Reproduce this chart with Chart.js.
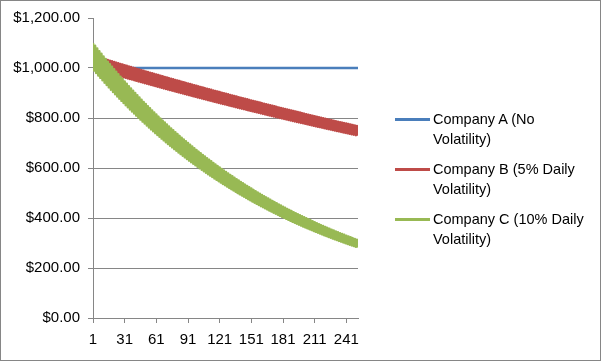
<!DOCTYPE html>
<html><head><meta charset="utf-8">
<script src="https://cdn.jsdelivr.net/npm/chart.js@4.4.1/dist/chart.umd.min.js"></script>
<style>
html,body{margin:0;padding:0;background:#fff;}
#wrap{position:relative;width:601px;height:361px;overflow:hidden;background:#fff;}
#frame{position:absolute;left:0;top:0;width:601px;height:361px;box-sizing:border-box;border:1px solid #868686;pointer-events:none;}
#c{position:absolute;left:0;top:0;}
.lg{position:absolute;left:395px;font-family:"Liberation Sans",Arial,sans-serif;font-size:14.5px;line-height:20px;color:#000;}
.lg .sw{position:absolute;left:0;width:35px;height:3px;top:9px;}
.lg .tx{position:absolute;left:38px;top:0;width:160px;}
</style></head><body>
<div id="wrap"><canvas id="c" width="601" height="361"></canvas><div id="legend"></div><div id="frame"></div></div>
<script>
const days = [
1,2,3,4,5,6,7,8,9,10,11,12,13,14,15,16,17,18,19,20,
21,22,23,24,25,26,27,28,29,30,31,32,33,34,35,36,37,38,39,40,
41,42,43,44,45,46,47,48,49,50,51,52,53,54,55,56,57,58,59,60,
61,62,63,64,65,66,67,68,69,70,71,72,73,74,75,76,77,78,79,80,
81,82,83,84,85,86,87,88,89,90,91,92,93,94,95,96,97,98,99,100,
101,102,103,104,105,106,107,108,109,110,111,112,113,114,115,116,117,118,119,120,
121,122,123,124,125,126,127,128,129,130,131,132,133,134,135,136,137,138,139,140,
141,142,143,144,145,146,147,148,149,150,151,152,153,154,155,156,157,158,159,160,
161,162,163,164,165,166,167,168,169,170,171,172,173,174,175,176,177,178,179,180,
181,182,183,184,185,186,187,188,189,190,191,192,193,194,195,196,197,198,199,200,
201,202,203,204,205,206,207,208,209,210,211,212,213,214,215,216,217,218,219,220,
221,222,223,224,225,226,227,228,229,230,231,232,233,234,235,236,237,238,239,240,
241,242,243,244,245,246,247,248,249,250,251,252
];
const companyA = [
1000,1000,1000,1000,1000,1000,1000,1000,1000,1000,1000,1000,1000,1000,1000,1000,1000,1000,1000,1000,1000,
1000,1000,1000,1000,1000,1000,1000,1000,1000,1000,1000,1000,1000,1000,1000,1000,1000,1000,1000,1000,1000,
1000,1000,1000,1000,1000,1000,1000,1000,1000,1000,1000,1000,1000,1000,1000,1000,1000,1000,1000,1000,1000,
1000,1000,1000,1000,1000,1000,1000,1000,1000,1000,1000,1000,1000,1000,1000,1000,1000,1000,1000,1000,1000,
1000,1000,1000,1000,1000,1000,1000,1000,1000,1000,1000,1000,1000,1000,1000,1000,1000,1000,1000,1000,1000,
1000,1000,1000,1000,1000,1000,1000,1000,1000,1000,1000,1000,1000,1000,1000,1000,1000,1000,1000,1000,1000,
1000,1000,1000,1000,1000,1000,1000,1000,1000,1000,1000,1000,1000,1000,1000,1000,1000,1000,1000,1000,1000,
1000,1000,1000,1000,1000,1000,1000,1000,1000,1000,1000,1000,1000,1000,1000,1000,1000,1000,1000,1000,1000,
1000,1000,1000,1000,1000,1000,1000,1000,1000,1000,1000,1000,1000,1000,1000,1000,1000,1000,1000,1000,1000,
1000,1000,1000,1000,1000,1000,1000,1000,1000,1000,1000,1000,1000,1000,1000,1000,1000,1000,1000,1000,1000,
1000,1000,1000,1000,1000,1000,1000,1000,1000,1000,1000,1000,1000,1000,1000,1000,1000,1000,1000,1000,1000,
1000,1000,1000,1000,1000,1000,1000,1000,1000,1000,1000,1000,1000,1000,1000,1000,1000,1000,1000,1000,1000
];
const companyB = [
1050.0,997.5,1047.4,995.0,1044.8,992.5,1042.1,990.0,1039.5,987.6,
1036.9,985.1,1034.3,982.6,1031.8,980.2,1029.2,977.7,1026.6,975.3,
1024.0,972.8,1021.5,970.4,1018.9,968.0,1016.4,965.6,1013.8,963.1,
1011.3,960.7,1008.8,958.3,1006.3,955.9,1003.7,953.6,1001.2,951.2,
998.7,948.8,996.2,946.4,993.7,944.1,991.3,941.7,988.8,939.3,
986.3,937.0,983.8,934.6,981.4,932.3,978.9,930.0,976.5,927.7,
974.0,925.3,971.6,923.0,969.2,920.7,966.8,918.4,964.3,916.1,
961.9,913.8,959.5,911.5,957.1,909.3,954.7,907.0,952.3,904.7,
950.0,902.5,947.6,900.2,945.2,898.0,942.9,895.7,940.5,893.5,
938.1,891.2,935.8,889.0,933.5,886.8,931.1,884.6,928.8,882.4,
926.5,880.2,924.2,878.0,921.8,875.8,919.5,873.6,917.2,871.4,
915.0,869.2,912.7,867.0,910.4,864.9,908.1,862.7,905.8,860.5,
903.6,858.4,901.3,856.2,899.1,854.1,896.8,852.0,894.6,849.8,
892.3,847.7,890.1,845.6,887.9,843.5,885.7,841.4,883.4,839.3,
881.2,837.2,879.0,835.1,876.8,833.0,874.6,830.9,872.5,828.8,
870.3,826.8,868.1,824.7,865.9,822.6,863.8,820.6,861.6,818.5,
859.5,816.5,857.3,814.4,855.2,812.4,853.0,810.4,850.9,808.3,
848.8,806.3,846.6,804.3,844.5,802.3,842.4,800.3,840.3,798.3,
838.2,796.3,836.1,794.3,834.0,792.3,831.9,790.3,829.9,788.4,
827.8,786.4,825.7,784.4,823.6,782.5,821.6,780.5,819.5,778.6,
817.5,776.6,815.4,774.7,813.4,772.7,811.4,770.8,809.3,768.9,
807.3,767.0,805.3,765.0,803.3,763.1,801.3,761.2,799.3,759.3,
797.3,757.4,795.3,755.5,793.3,753.6,791.3,751.7,789.3,749.9,
787.4,748.0,785.4,746.1,783.4,744.3,781.5,742.4,779.5,740.5,
777.6,738.7,775.6,736.8,773.7,735.0,771.7,733.2,769.8,731.3,
767.9,729.5
];
const companyC = [
1100.0,990.0,1089.0,980.1,1078.1,970.3,1067.3,960.6,1056.7,951.0,
1046.1,941.5,1035.6,932.1,1025.3,922.7,1015.0,913.5,1004.9,904.4,
994.8,895.3,984.9,886.4,975.0,877.5,965.3,868.7,955.6,860.1,
946.1,851.5,936.6,842.9,927.2,834.5,918.0,826.2,908.8,817.9,
899.7,809.7,890.7,801.6,881.8,793.6,873.0,785.7,864.2,777.8,
855.6,770.0,847.0,762.3,838.6,754.7,830.2,747.2,821.9,739.7,
813.7,732.3,805.5,725.0,797.5,717.7,789.5,710.6,781.6,703.4,
773.8,696.4,766.1,689.4,758.4,682.6,750.8,675.7,743.3,669.0,
735.9,662.3,728.5,655.7,721.2,649.1,714.0,642.6,706.9,636.2,
699.8,629.8,692.8,623.5,685.9,617.3,679.0,611.1,672.2,605.0,
665.5,599.0,658.9,593.0,652.3,587.0,645.7,581.2,639.3,575.4,
632.9,569.6,626.6,563.9,620.3,558.3,614.1,552.7,608.0,547.2,
601.9,541.7,595.9,536.3,589.9,530.9,584.0,525.6,578.2,520.3,
572.4,515.1,566.7,510.0,561.0,504.9,555.4,499.8,549.8,494.8,
544.3,489.9,538.9,485.0,533.5,480.1,528.2,475.3,522.9,470.6,
517.6,465.9,512.5,461.2,507.3,456.6,502.3,452.0,497.2,447.5,
492.3,443.0,487.4,438.6,482.5,434.2,477.7,429.9,472.9,425.6,
468.1,421.3,463.5,417.1,458.8,413.0,454.2,408.8,449.7,404.7,
445.2,400.7,440.8,396.7,436.3,392.7,432.0,388.8,427.7,384.9,
423.4,381.0,419.2,377.2,415.0,373.5,410.8,369.7,406.7,366.0,
402.6,362.4,398.6,358.7,394.6,355.2,390.7,351.6,386.8,348.1,
382.9,344.6,379.1,341.2,375.3,337.8,371.5,334.4,367.8,331.0,
364.1,327.7,360.5,324.4,356.9,321.2,353.3,318.0,349.8,314.8,
346.3,311.7,342.8,308.5,339.4,305.5,336.0,302.4,332.6,299.4,
329.3,296.4,326.0,293.4,322.8,290.5,319.5,287.6,316.3,284.7,
313.2,281.9
];
const seriesNames = ['Company A (No Volatility)', 'Company B (5% Daily Volatility)', 'Company C (10% Daily Volatility)'];
const xTickLabels = [1, 31, 61, 91, 121, 151, 181, 211, 241];
const yMin = 0, yMax = 1200, yStep = 200;

const gridGray = '#868686';
const axisFont = { family: '"Liberation Sans", Arial, sans-serif', size: 15 };

const chart = new Chart(document.getElementById('c'), {
  type: 'line',
  data: {
    labels: days,
    datasets: [
      { label: seriesNames[0], data: companyA, borderColor: '#4A7EBB', backgroundColor: '#4A7EBB', order: 3 },
      { label: seriesNames[1], data: companyB, borderColor: '#BE4B48', backgroundColor: '#BE4B48', order: 2 },
      { label: seriesNames[2], data: companyC, borderColor: '#98B954', backgroundColor: '#98B954', order: 1 }
    ]
  },
  options: {
    responsive: false,
    animation: false,
    devicePixelRatio: 1,
    layout: { padding: { left: 0, right: 243, top: 18, bottom: 0 } },
    elements: {
      point: { radius: 0, hoverRadius: 0 },
      line: { borderWidth: 2.5, tension: 0, borderJoinStyle: 'round', fill: false }
    },
    plugins: { legend: { display: false }, tooltip: { enabled: false } },
    scales: {
      x: {
        type: 'linear',
        min: days[0],
        max: days[days.length - 1],
        afterBuildTicks: (s) => { s.ticks = xTickLabels.map(v => ({ value: v })); },
        afterFit: (s) => { s.height = 43; },
        grid: { drawOnChartArea: false, drawTicks: true, tickLength: 5, color: gridGray },
        border: { display: true, color: gridGray, width: 1 },
        ticks: { maxRotation: 0, minRotation: 0, autoSkip: false, padding: 8, color: '#000', font: axisFont }
      },
      y: {
        min: yMin,
        max: yMax,
        afterFit: (s) => { s.width = 93; },
        grid: {
          color: (ctx) => (ctx.tick && ctx.tick.value === yMax) ? 'rgba(0,0,0,0)' : gridGray,
          tickColor: gridGray,
          tickLength: 5,
          lineWidth: 1
        },
        border: { display: true, color: gridGray, width: 1 },
        ticks: {
          stepSize: yStep,
          padding: 8,
          color: '#000',
          font: axisFont,
          callback: (v) => '$' + Number(v).toLocaleString('en-US', { minimumFractionDigits: 2, maximumFractionDigits: 2 })
        }
      }
    }
  }
});

// legend (wrapping text as in the original)
const legend = document.getElementById('legend');
const legendTops = [109, 159, 209];
chart.data.datasets.forEach((ds, i) => {
  const item = document.createElement('div');
  item.className = 'lg';
  item.style.top = legendTops[i] + 'px';
  const sw = document.createElement('div');
  sw.className = 'sw';
  sw.style.background = ds.borderColor;
  const tx = document.createElement('div');
  tx.className = 'tx';
  tx.textContent = ds.label;
  item.appendChild(sw);
  item.appendChild(tx);
  legend.appendChild(item);
});
</script>
</body></html>
